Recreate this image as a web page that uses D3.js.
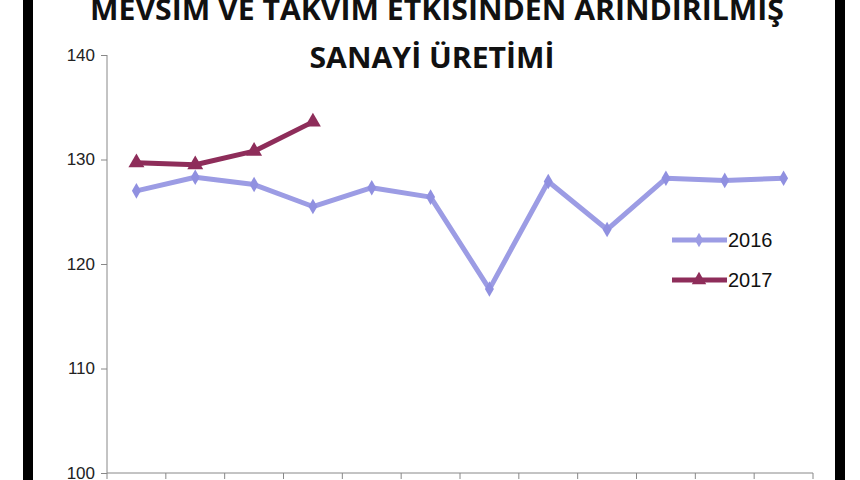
<!DOCTYPE html>
<html><head><meta charset="utf-8">
<script src="https://cdn.jsdelivr.net/npm/d3@7"></script>
<style>body{margin:0;background:#fff}svg{display:block}</style>
</head><body>
<script>
const months = ["Oca","Şub","Mar","Nis","May","Haz","Tem","Ağu","Eyl","Eki","Kas","Ara"];
const values2016 = [127.0, 128.3, 127.6, 125.5, 127.3, 126.4, 117.6, 127.9, 123.3, 128.2, 128.0, 128.2];
const values2017 = [129.7, 129.5, 130.8, 133.6];
const yTicks = [100, 110, 120, 130, 140];
const seriesNames = ["2016", "2017"];
const titleLines = ["MEVSİM VE TAKVİM ETKİSİNDEN ARINDIRILMIŞ", "SANAYİ ÜRETİMİ"];

const W = 860, H = 480;
const svg = d3.select("body").append("svg").attr("width", W).attr("height", H);
svg.append("rect").attr("width", W).attr("height", H).attr("fill", "#fff");

// frame bars
svg.append("rect").attr("x", 23).attr("y", 0).attr("width", 10).attr("height", H).attr("fill", "#000");
svg.append("rect").attr("x", 835).attr("y", 0).attr("width", 10).attr("height", H).attr("fill", "#000");

const x = d3.scaleBand().domain(months).range([107, 813]);
const y = d3.scaleLinear().domain([100, 140]).range([473, 55]);

// y axis
const yAxis = svg.append("g").attr("transform", "translate(107,0)")
  .call(d3.axisLeft(y).tickValues(yTicks).tickSize(6).tickPadding(6).tickFormat(d3.format("d")));
yAxis.select(".domain").attr("stroke", "#888").attr("d", "M0," + y(140) + "V" + y(100));
yAxis.selectAll(".tick line").attr("stroke", "#888");
yAxis.selectAll("text").attr("font-family", "Liberation Sans, Arial, sans-serif").attr("font-size", 17).attr("fill", "#222");

// x axis
const xAxis = svg.append("g").attr("transform", "translate(0,473)")
  .call(d3.axisBottom(x).tickSize(0).tickFormat(""));
xAxis.select(".domain").attr("stroke", "#888").attr("d", "M107,0H813");
const bounds = months.map(m => x(m)).concat([813]);
xAxis.selectAll(".xt").data(bounds).enter().append("line").attr("class", "xt")
  .attr("x1", d => d).attr("x2", d => d).attr("y1", 0).attr("y2", 6).attr("stroke", "#888");

const cx = (d, i) => x(months[i]) + x.bandwidth() / 2;
const line = d3.line().x((d, i) => cx(d, i)).y(d => y(d));

const c2016 = "#9c9ce4", c2017 = "#8e2d5a";

svg.append("path").datum(values2016).attr("d", line).attr("fill", "none")
  .attr("stroke", c2016).attr("stroke-width", 5).attr("stroke-linejoin", "round");
svg.selectAll(".d16").data(values2016).enter().append("path").attr("class", "d16")
  .attr("transform", (d, i) => `translate(${cx(d, i)},${y(d)})`)
  .attr("d", d3.symbol(d3.symbolDiamond, 70)).attr("fill", "#9090e0");

svg.append("path").datum(values2017).attr("d", line).attr("fill", "none")
  .attr("stroke", c2017).attr("stroke-width", 5).attr("stroke-linejoin", "round");
svg.selectAll(".t17").data(values2017).enter().append("path").attr("class", "t17")
  .attr("transform", (d, i) => `translate(${cx(d, i)},${y(d)})`)
  .attr("d", d3.symbol(d3.symbolTriangle, 110)).attr("fill", c2017);

// legend
const leg = [{name: seriesNames[0], c: c2016, sym: d3.symbolDiamond, s: 60, y: 240},
             {name: seriesNames[1], c: c2017, sym: d3.symbolTriangle, s: 90, y: 280}];
leg.forEach(l => {
  svg.append("line").attr("x1", 672).attr("x2", 727).attr("y1", l.y).attr("y2", l.y)
    .attr("stroke", l.c).attr("stroke-width", 5);
  svg.append("path").attr("transform", `translate(699,${l.y})`).attr("d", d3.symbol(l.sym, l.s)).attr("fill", l.c);
  svg.append("text").attr("x", 728).attr("y", l.y + 7).text(l.name)
    .attr("font-family", "Liberation Sans, Arial, sans-serif").attr("font-size", 20).attr("fill", "#111");
});

// title
svg.append("text").attr("x", 437).attr("y", 20).attr("text-anchor", "middle")
  .attr("textLength", 694).attr("lengthAdjust", "spacingAndGlyphs")
  .attr("font-family", "Open Sans, sans-serif").attr("font-weight", "bold").attr("font-size", 29)
  .attr("fill", "#111").text(titleLines[0]);
svg.append("text").attr("x", 432).attr("y", 68).attr("text-anchor", "middle")
  .attr("textLength", 245).attr("lengthAdjust", "spacingAndGlyphs")
  .attr("font-family", "Open Sans, sans-serif").attr("font-weight", "bold").attr("font-size", 28)
  .attr("fill", "#111").text(titleLines[1]);
</script>
</body></html>
